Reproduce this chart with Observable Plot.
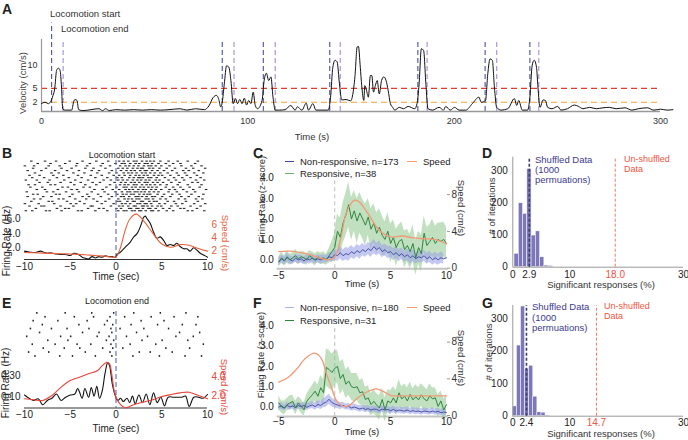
<!DOCTYPE html>
<html><head><meta charset="utf-8">
<script src="https://cdn.jsdelivr.net/npm/d3@7"></script>
<script src="https://cdn.jsdelivr.net/npm/@observablehq/plot@0.6"></script>
<style>
body{margin:0;background:#fff;}
#root{position:relative;width:688px;height:440px;overflow:hidden;font-family:"Liberation Sans",Arial,Helvetica,sans-serif;color:#222;}
.t{position:absolute;white-space:nowrap;line-height:1;}
.sw{position:absolute;height:0;}
</style></head><body><div id="root"></div><script>
// ---------------- DATA ----------------
// Panel A: velocity trace
const velTime = [0,1.7,3.4,4.5,5.6,6.4,7.3,8.2,9.0,9.7,10.3,11.4,14.6,15.7,16.3,17.2,18.0,20,27.9,29.6,31.1,32.8,36,40.3,44.6,48.9,53.2,57.5,61.8,67.2,70.4,74.7,79,81.1,83.3,84.8,85.8,86.9,87.6,88.6,89.7,90.8,91.8,92.9,94,95,96.1,97.2,98.3,99.4,100.4,101.5,102.6,103.6,104.7,106.9,107.9,109,110.1,111.2,112.2,113.3,115.5,118,120.8,122.9,124,126.2,128.3,129.4,131.5,133,139,140.1,141.2,142.3,143.3,144.4,145.5,147.6,149.8,151.9,153,153.6,154.5,155.2,156.2,156.7,157.5,158.4,159.4,160.1,160.9,161.8,162.7,163.7,164.8,165.9,167,168,169.1,170.2,171.2,173.4,175.5,177.7,180.9,182,183,184.1,185.2,186.3,187.3,189.5,192.7,194.8,195.9,198.1,200.2,202.4,205.6,208.8,212,213.1,215.2,216.3,217.4,218.5,219.5,220.6,222.7,226,229.2,230.3,231.3,233,235.6,236.7,237.8,238.8,239.9,240.6,241.6,243.1,244.2,245.3,247.4,250.2,251.7,254.9,258.2,260.3,262.4,265.7,268.9,272.1,275.3,278.5,282.8,286.1,289.3,293.6,296.8,300,303.2,306];
const velSpeed = [1.7,2.0,1.7,2.2,3.5,4.9,8.9,9.4,8.9,5.3,0.5,0.3,0.3,2.3,2.6,2.4,0.4,0.2,0.6,0.2,0.6,0.2,0.4,0.3,0.4,0.3,0.4,0.3,0.4,0.6,0.3,0.6,0.4,1.2,3.1,3.5,2.8,1.0,2.0,6.0,9.9,9.6,6.7,1.7,2.8,1.7,2.6,1.7,2.9,1.4,2.4,1.7,4.2,1.3,0.6,2.4,6.7,8.3,6.7,7.5,3.1,0.3,0.3,0.4,1.3,0.3,1.0,0.3,1.8,0.3,1.7,0.3,0.3,3.1,9.6,11.1,10.7,6.0,2.5,2.6,2.3,7.5,14.0,14.1,9.6,5.6,2.4,5.6,4.6,3.1,7.8,7.8,4.2,5.6,6.7,3.8,6.7,7.5,6.7,4.6,1.7,0.9,0.3,0.9,0.6,1.1,0.6,1.7,5.9,13.6,13.2,5.9,0.6,0.3,0.9,0.3,1.1,0.3,0.9,0.3,0.3,1.7,3.1,2.0,2.4,8.2,11.4,11.1,5.3,0.9,0.3,0.6,2.8,1.3,2.4,0.3,0.3,3.1,10.0,11.1,9.6,5.3,0.9,2.5,2.4,0.9,0.6,1.1,0.3,0.6,1.4,1.1,0.6,0.9,0.6,0.8,0.9,0.6,0.8,0.3,0.6,0.8,0.3,0.5,0.3,0.4];
const locoStart = [4.9, 87.6, 107.5, 139.7, 182.4, 215, 236.7];
const locoEnd = [10.5, 93.3, 113.3, 144.8, 186.9, 220.6, 241];
const speedThresholds = [2, 5];
const aXTicks = [0, 100, 200, 300];
const aYTicks = [2, 5, 10];

// Panel B: locomotion start, single cell (spike times per trial, s)
const rasterStart = [
 [-9.8,-9.1,-7.6,-7.2,-5.9,-4.1,-3.7,-2.2,-0.9,0.3,0.9,1.2,1.8,2.1,2.6,2.8,3.3,3.9,4.1,4.7,5.6,6.3,7.9,8.4,9.7],
 [-8.7,-6.4,-5.5,-5.1,-3.0,-1.8,-1.3,0.1,0.6,1.5,1.7,2.3,2.5,3.0,3.6,3.8,4.4,5.2,5.9,7.1,7.5,8.9],
 [-9.4,-8.1,-7.8,-6.0,-4.6,-2.7,-2.5,-0.5,0.4,0.8,1.4,2.0,2.2,2.9,3.1,3.5,4.0,4.6,5.0,6.1,6.8,8.2,9.3],
 [-9.9,-8.4,-6.7,-4.9,-4.3,-3.4,-1.5,-0.2,0.7,1.1,1.6,2.4,2.7,3.2,3.4,3.9,4.8,5.4,6.6,7.3,8.6,9.8],
 [-9.2,-7.3,-6.9,-5.3,-3.9,-2.0,-1.1,0.2,0.5,1.3,1.9,2.1,2.8,3.0,3.7,4.2,4.5,5.7,6.4,7.7,9.0],
 [-8.9,-8.2,-6.2,-5.7,-4.4,-3.2,-2.4,-0.7,0.3,1.0,1.4,1.8,2.3,2.6,3.3,3.6,4.1,4.9,5.5,6.9,7.6,8.8,9.5],
 [-9.6,-7.9,-7.0,-5.0,-3.6,-2.9,-1.6,-0.4,0.6,0.9,1.5,2.2,2.5,2.9,3.4,4.0,4.3,5.1,6.0,7.2,8.0,9.1],
 [-9.0,-8.5,-6.5,-6.1,-4.7,-3.1,-1.9,-0.8,0.2,0.8,1.2,1.7,2.0,2.6,3.1,3.5,3.8,4.6,5.3,6.2,7.0,8.3,9.6],
 [-9.7,-7.5,-6.8,-5.4,-4.0,-2.6,-1.2,0.0,0.7,1.3,1.6,2.1,2.4,2.8,3.2,3.7,4.2,4.7,5.8,6.7,7.8,8.7],
 [-8.6,-7.7,-6.3,-4.8,-4.2,-2.3,-1.4,-0.3,0.4,1.1,1.5,1.9,2.5,3.0,3.3,3.9,4.4,5.0,5.9,6.5,7.4,8.5,9.9],
 [-9.3,-8.0,-5.8,-5.2,-3.5,-2.8,-1.0,0.1,0.9,1.2,1.8,2.2,2.7,3.1,3.6,4.0,4.5,5.5,6.3,7.1,8.1,9.2],
 [-9.5,-8.8,-7.1,-6.6,-4.5,-3.3,-2.1,-0.6,0.5,1.0,1.4,2.0,2.3,2.9,3.4,3.8,4.3,4.9,5.6,6.8,7.9,9.4],
 [-8.3,-7.4,-6.0,-4.9,-3.8,-2.5,-1.7,-0.1,0.6,1.1,1.7,2.1,2.6,3.2,3.5,4.1,4.6,5.2,6.1,7.0,8.4,9.0],
 [-9.8,-8.6,-7.2,-5.6,-4.4,-3.0,-1.3,-0.5,0.3,0.8,1.3,1.9,2.4,2.8,3.3,3.7,4.4,4.8,5.8,6.6,7.5,8.8,9.7],
 [-9.1,-7.8,-6.4,-5.1,-3.7,-2.2,-0.9,0.2,0.7,1.5,2.0,2.5,2.7,3.0,3.6,3.9,4.5,5.4,6.4,7.3,8.2,9.3],
 [-9.4,-8.3,-6.8,-5.7,-4.1,-2.7,-1.5,-0.2,0.4,1.0,1.6,2.2,2.6,3.1,3.5,4.2,4.7,5.1,6.0,6.9,7.8,8.9],
 [-8.8,-7.0,-6.2,-4.6,-3.4,-2.0,-0.7,0.1,0.9,1.4,1.8,2.3,2.9,3.3,3.8,4.3,4.9,5.7,6.7,7.6,8.6,9.6],
 [-9.6,-8.1,-6.6,-5.3,-4.0,-2.6,-1.8,-0.4,0.6,1.2,1.7,2.1,2.7,3.2,3.4,4.0,4.6,5.3,6.2,7.4,8.0,9.1],
 [-9.0,-7.6,-5.9,-4.8,-3.3,-2.4,-1.1,0.3,0.8,1.3,1.9,2.4,2.8,3.0,3.7,4.1,4.8,5.6,6.5,7.7,8.5,9.8],
 [-9.9,-8.9,-7.3,-6.1,-4.3,-3.1,-1.6,-0.6,0.5,1.1,1.5,2.0,2.5,3.1,3.6,3.9,4.4,5.0,5.9,7.2,8.3,9.4],
 [-8.5,-7.1,-5.5,-4.2,-2.8,-1.4,0.0,0.7,1.0,1.6,2.2,2.6,3.2,3.5,4.0,4.7,5.5,6.3,7.1,8.7],
 [-9.2,-7.7,-6.5,-5.0,-3.6,-2.1,-0.8,0.4,0.9,1.4,2.0,2.3,2.9,3.4,3.8,4.2,4.9,5.8,6.8,7.9,9.0]
];
const bTime = [-10,-9.35,-8.8,-8.25,-7.9,-7.5,-7.2,-6.6,-6.1,-5.5,-5.0,-4.6,-4.1,-3.7,-3.35,-3.0,-2.6,-2.25,-1.9,-1.5,-1.16,-0.8,-0.44,-0.07,0.1,0.47,0.84,1.2,1.56,1.93,2.3,2.65,2.84,3.0,3.2,3.38,3.75,4.1,4.47,4.84,5.2,5.56,5.93,6.3,6.65,7.0,7.4,7.75,8.1,8.47,8.84,9.2,9.75,10];
const bRate = [1.48,1.33,1.29,1.48,1.33,1.19,1.24,1.1,1.0,1.0,0.86,1.19,1.0,0.62,0.48,0.38,0.71,0.52,0.71,0.62,0.81,0.71,0.71,0.62,1.0,1.33,1.81,2.29,2.76,3.48,3.95,4.9,5.62,6.24,6.43,6.1,5.38,4.19,3.3,3.5,3.0,2.29,2.43,2.29,2.6,2.14,1.81,1.81,1.48,1.95,1.62,1.19,0.81,0.62];
const bSpeedTime = [-10,-9,-8,-7,-6,-5,-4,-3,-2,-1,-0.5,0,0.5,1,1.5,2.2,3,4,5,6,7,8,9,10];
const bSpeed = [1.7,1.65,1.6,1.55,1.5,1.45,1.4,1.3,1.2,1.1,1.0,1.0,2.5,5.1,6.8,7.6,6.6,4.7,3.0,2.5,2.9,2.8,2.3,1.9];

// Panel E: locomotion end, single cell
const rasterEnd = [
 [-8.8,-6.1,-4.7,-2.2,-0.4,1.9,4.8,7.6,9.4],
 [-9.5,-7.3,-3.3,-0.6,2.6,3.8,6.2],
 [-7.9,-5.6,-3.9,-1.4,-0.3,0.8,5.5,8.1],
 [-9.1,-6.6,-4.2,-2.7,-0.5,1.6,4.4,9.6],
 [-7.4,-5.2,-1.0,-0.2,2.9,5.1,7.9],
 [-9.7,-6.0,-4.9,-2.0,-0.7,1.2,3.5,6.6,8.5],
 [-8.3,-3.6,-1.8,-0.4,2.3,7.0,9.2],
 [-9.3,-7.0,-5.3,-2.9,-0.5,0.5,3.1,5.8],
 [-8.0,-4.0,-1.2,-0.3,1.7,4.6,7.3,8.8],
 [-9.0,-6.3,-3.1,-0.9,2.8,5.3],
 [-7.7,-4.5,-2.4,-0.6,1.0,3.9,6.4,9.0],
 [-8.6,-5.5,-2.6,-0.2,2.0,4.9,7.7]
];
const eTime = [-10,-9.5,-9,-8.5,-8,-7.5,-7,-6.5,-6,-5.5,-5,-4.5,-4.2,-4,-3.7,-3.4,-3,-2.7,-2.4,-2.1,-1.8,-1.5,-1.2,-0.9,-0.7,-0.4,-0.1,0.2,0.5,0.8,1.2,1.5,1.8,2.1,2.5,2.9,3.3,3.7,4.1,4.5,4.9,5.3,5.7,6.3,6.7,7.2,7.6,8.0,8.5,9.0,9.5,10];
const eRate = [0.12,0.09,0.07,0.085,0.03,0.07,0.09,0.13,0.07,0.1,0.12,0.13,0.18,0.15,0.09,0.18,0.1,0.19,0.11,0.2,0.09,0.16,0.32,0.42,0.39,0.22,0.12,0.07,0.09,0.06,0.09,0.05,0.11,0.04,0.12,0.05,0.13,0.03,0.14,0.05,0.1,0.02,0.1,0.1,0.1,0.1,0.11,0.015,0.1,0.1,0.09,0.125];
const eSpeedTime = [-10,-9,-8,-7,-6,-5,-4,-3,-2,-1.5,-1,-0.7,-0.5,-0.2,0,0.5,1,1.5,2,3,4,5,6,7,8,9,10];
const eSpeed = [1.63,1.52,1.45,1.99,2.9,3.62,3.98,4.35,4.71,5.25,5.6,5.43,4.53,2.53,1.81,1.01,0.65,0.8,1.01,1.27,1.52,1.88,2.1,2.28,2.35,1.99,1.63];

// Panels C and F: population averages
const popTime = [-5,-4.75,-4.5,-4.25,-4,-3.75,-3.5,-3.25,-3,-2.75,-2.5,-2.25,-2,-1.75,-1.5,-1.25,-1,-0.75,-0.5,-0.25,0,0.25,0.5,0.75,1,1.25,1.5,1.75,2,2.25,2.5,2.75,3,3.25,3.5,3.75,4,4.25,4.5,4.75,5,5.25,5.5,5.75,6,6.25,6.5,6.75,7,7.25,7.5,7.75,8,8.25,8.5,8.75,9,9.25,9.5,9.75,10];
const cRespMean = [-0.1,0.1,-0.05,0.15,0.0,0.1,0.2,0.05,0.15,0.1, 0.0,0.2,0.1,0.0,0.15,0.05,0.1,0.0,0.2,0.4, 0.6,1.4,1.1,1.8,2.2,2.7,2.0,2.4,1.9,2.3, 2.0,1.7,2.1,1.5,1.8,1.3,1.6,1.2,1.0,1.4, 0.8,1.1,0.6,0.9,1.0,0.5,0.7,0.4,0.8,0.1, 0.6,0.3,1.3,0.7,0.9,1.1,0.8,1.0,0.9,1.0, 0.8];
const cRespSem = [0.25,0.28,0.25,0.3,0.27,0.25,0.3,0.28,0.25,0.3, 0.27,0.25,0.28,0.3,0.25,0.28,0.3,0.27,0.35,0.5, 0.7,0.85,0.95,1.0,1.05,1.1,1.05,1.0,1.1,1.0, 0.95,1.05,0.9,1.0,0.95,1.0,0.9,0.95,0.85,0.9, 0.95,0.85,0.9,0.8,0.85,0.9,0.8,0.85,0.9,0.85, 0.8,0.9,0.85,0.9,0.8,0.9,0.85,0.8,0.9,0.85, 0.8];
const cNonMean = [-0.1,0.05,-0.05,0.1,0.0,-0.05,0.08,0.0,0.05,-0.05, 0.05,0.0,0.08,-0.02,0.05,0.0,0.05,0.02,0.15,0.1, 0.25,0.2,0.35,0.2,0.3,0.25,0.4,0.3,0.45,0.35, 0.5,0.4,0.55,0.45,0.65,0.5,0.6,0.4,0.5,0.35, 0.4,0.25,0.35,0.2,0.3,0.15,0.25,0.1,0.2,0.05, 0.15,0.1,0.2,0.05,0.15,0.0,0.1,0.0,0.1,0.05, 0.1];
const cNonSem = [0.2,0.18,0.2,0.22,0.2,0.18,0.2,0.22,0.2,0.18, 0.2,0.22,0.2,0.18,0.2,0.22,0.2,0.18,0.2,0.22, 0.25, 0.28,0.3,0.28,0.3,0.32,0.3,0.28,0.3,0.32, 0.3,0.28,0.3,0.32,0.35,0.3,0.32,0.3,0.28,0.3, 0.28,0.3,0.28,0.3,0.28,0.26,0.28,0.3,0.28,0.26, 0.28,0.26,0.28,0.26,0.28,0.26,0.28,0.26,0.28,0.26];
const cSpeedTime = [-5,-4,-3,-2,-1,-0.5,0,0.5,1,1.5,1.8,2.2,3,4,5,6,7,8,9,10];
const cSpeed = [1.8,1.85,1.7,1.4,1.0,0.9,1.2,3.0,5.9,7.1,7.4,7.2,5.9,4.1,3.4,3.5,3.3,3.2,3.1,2.65];

const fRespMean = [0.2,0.0,-0.05,0.12,0.2,0.28,-0.05,0.2,0.05,-0.14, 0.28,0.45,0.6,0.78,0.53,0.95,0.7,1.95,1.85,1.7, 1.9,2.0,1.4,1.6,1.12,1.28,1.0,0.95,1.0,0.7, 0.75,0.37,0.45,0.12,0.28,0.1,-0.05,0.37,-0.14,0.3, 0.2,0.45,0.2,0.7,0.4,0.53,0.3,0.62,0.35,0.5, 0.35,0.6,0.4,0.3,0.55,0.4,0.45,0.03,0.3,-0.14, 0.12];
const fRespSem = [0.35,0.3,0.35,0.3,0.35,0.3,0.35,0.3,0.35,0.3, 0.35,0.4,0.45,0.5,0.55,0.6,0.65,0.9,0.95,0.9, 0.85,0.8,0.8,0.75,0.7,0.7,0.65,0.7,0.65,0.6, 0.65,0.6,0.6,0.55,0.6,0.55,0.6,0.55,0.6,0.55, 0.6,0.55,0.6,0.65,0.6,0.6,0.65,0.6,0.55,0.6, 0.6,0.55,0.6,0.55,0.6,0.55,0.5,0.55,0.5,0.55, 0.5];
const fNonMean = [0.0,0.05,-0.05,0.08,0.0,0.05,-0.03,0.07,0.02,0.08, -0.02,0.05,0.1,0.02,0.12,0.08,0.18,0.25,0.38,0.22, 0.15,0.1,0.05,0.08,0.0,0.03,-0.05,0.0,-0.05,-0.1, -0.05,-0.12,-0.08,-0.15,-0.1,-0.12,-0.18,-0.1,-0.15,-0.12, -0.18,-0.12,-0.2,-0.15,-0.18,-0.2,-0.15,-0.22,-0.18,-0.22, -0.2,-0.25,-0.2,-0.22,-0.25,-0.2,-0.25,-0.22,-0.28,-0.25, -0.27];
const fNonSem = [0.15,0.17,0.15,0.16,0.15,0.17,0.15,0.16,0.15,0.17, 0.15,0.16,0.17,0.18,0.18,0.2,0.22,0.25,0.25,0.22, 0.2,0.18,0.17,0.16,0.15,0.16,0.15,0.16,0.15,0.16, 0.15,0.16,0.15,0.16,0.15,0.16,0.15,0.16,0.15,0.16, 0.15,0.16,0.15,0.16,0.15,0.16,0.15,0.16,0.15,0.16, 0.15,0.16,0.15,0.16,0.15,0.16,0.15,0.16,0.15,0.16, 0.15];
const fSpeedTime = [-5,-4.14,-3.25,-2.66,-1.78,-1.18,-0.74,-0.3,0.15,0.59,1.04,1.48,2.07,2.96,3.7,4.29,5.03,5.6,6.8,8.28,10];
const fSpeed = [3.64,4.18,5.28,6.19,6.8,6.19,4.55,3.09,1.64,1.09,0.98,1.27,1.93,2.62,2.91,2.66,2.18,2.14,2.14,2.14,2.14];
const popTimeTicks = [-5, 0, 5, 10];
const zTicks = [0, 1, 2, 3, 4];
const popSpeedTicks = [0, 4, 8];

// Panels D and G: shuffled histograms
const dBinLo = [0.3,1.05,1.8,2.55,3.3,4.05,4.8,5.55,6.3];
const dBinHi = [1.05,1.8,2.55,3.3,4.05,4.8,5.55,6.3,7.05];
const dCounts = [42,200,167,307,99,112,31,5,4];
const dShuffledMean = 2.9, dObserved = 18.0;
const gBinLo = [0,0.72,1.44,2.16,2.88,3.6,4.32,5.04,5.76];
const gBinHi = [0.72,1.44,2.16,2.88,3.6,4.32,5.04,5.76,6.48];
const gCounts = [30,217,337,146,155,60,12,11,2];
const gShuffledMean = 2.4, gObserved = 14.7;
const histYTicks = [0, 100, 200, 300];

// ---------------- DRAWING ----------------
const root = document.getElementById("root");
const FONT = '"Liberation Sans", Arial, Helvetica, sans-serif';
const baseStyle = {background: "transparent", overflow: "visible", fontFamily: FONT, fontSize: "9px", color: "#222"};
function P(opts, left, top) {
  const svg = Plot.plot({...opts, style: baseStyle});
  svg.style.position = "absolute"; svg.style.left = left + "px"; svg.style.top = top + "px";
  svg.style.maxWidth = "none"; svg.style.overflow = "visible"; svg.style.background = "transparent";
  root.appendChild(svg);
  return svg;
}
function T(s, x, y, o = {}) {
  const d = document.createElement("div");
  d.className = "t"; d.textContent = s;
  d.style.left = x + "px"; d.style.top = y + "px";
  d.style.fontSize = (o.size || 9) + "px";
  if (o.bold) d.style.fontWeight = "bold";
  if (o.color) d.style.color = o.color;
  const ax = o.align === "left" ? "0" : o.align === "right" ? "-100%" : "-50%";
  d.style.transform = `translate(${ax},-50%)` + (o.rot ? ` rotate(${o.rot}deg)` : "");
  root.appendChild(d);
}
function SW(x, y, w, color) {
  const d = document.createElement("div");
  d.className = "sw"; d.style.left = x + "px"; d.style.top = y + "px"; d.style.width = w + "px";
  d.style.borderTop = `1.5px solid ${color}`;
  root.appendChild(d);
}
const zip = (xs, ys) => xs.map((x, i) => ({x, y: ys[i]}));
const band = (xs, m, s) => xs.map((x, i) => ({x, m: m[i], lo: m[i] - s[i], hi: m[i] + s[i]}));
const spikes = rows => rows.flatMap((r, i) => r.map(t => ({t, row: i})));

const START_C = "#4b4fa6", END_C = "#b39ddb", LOCO_C = "#6d72c3";
const SPEED_C = "#e8603a", POP_SPEED_C = "#f29a76";
const GREEN = "#2e8540", GREEN_BAND = "#8cc68c", BLUE = "#3d46a3", BLUE_BAND = "#9ea3e6";
const HIST = "#7b77b8", RED = "#f0553f", DARKP = "#3c3a8f";

// ---- Panel A ----
const vel = zip(velTime, velSpeed);
P({width: 688, height: 145, marginLeft: 41, marginRight: 28, marginTop: 39, marginBottom: 34,
  x: {domain: [0, 300], axis: null}, y: {domain: [0, 15.6], axis: null},
  marks: [
    Plot.ruleY([speedThresholds[1]], {x1: 0, x2: 300, stroke: "#e03c2e", strokeWidth: 1.1, strokeDasharray: "6,4"}),
    Plot.ruleY([speedThresholds[0]], {x1: 0, x2: 300, stroke: "#f2a33a", strokeWidth: 1.1, strokeDasharray: "6,4"}),
    Plot.ruleX(locoStart.slice(0, 1), {y1: 0, y2: 19.2, stroke: START_C, strokeWidth: 1.1, strokeDasharray: "5,3"}),
    Plot.ruleX(locoStart.slice(1), {y1: 0, y2: 15.6, stroke: START_C, strokeWidth: 1.1, strokeDasharray: "5,3"}),
    Plot.ruleX(locoEnd, {y1: 0, y2: 15.6, stroke: END_C, strokeWidth: 1.3, strokeDasharray: "5,3"}),
    Plot.ruleY([0], {x1: 0, x2: 300, stroke: "#999", strokeWidth: 1.5}),
    Plot.ruleX([0], {y1: 0, y2: 15.6, stroke: "#999", strokeWidth: 1.2}),
    Plot.line(vel, {x: "x", y: "y", stroke: "#111", strokeWidth: 1, curve: "monotone-x"}),
    Plot.axisX({ticks: aXTicks, tickSize: 0, tickPadding: 6, label: null, color: "#333"}),
    Plot.axisY({ticks: aYTicks, tickSize: 0, tickPadding: 4, label: null, color: "#333"})
  ]}, 0, 0);
T("A", 2, 9, {bold: true, size: 14, align: "left"});
T("Locomotion start", 50, 14, {align: "left", size: 9.5, color: "#333"});
T("Locomotion end", 61, 29, {align: "left", size: 9.5, color: "#333"});
T("Velocity (cm/s)", 23, 83, {rot: -90, size: 9.5, color: "#444"});
T("Time (s)", 312, 137, {size: 9.5, color: "#333"});

// ---- single-cell panels B and E ----
function cellPanel(cfg) {
  P({width: 230, height: cfg.rH, marginLeft: 24, marginRight: 23, marginTop: cfg.rMT, marginBottom: 2,
    x: {domain: [-10, 10], axis: null}, y: {domain: [0, cfg.raster.length], axis: null},
    marks: [
      Plot.rect(spikes(cfg.raster), {x1: d => d.t - cfg.tickHalf, x2: d => d.t + cfg.tickHalf, y1: d => d.row + 0.3, y2: d => d.row + 0.75, fill: "#222"}),
      Plot.ruleX([0], {stroke: LOCO_C, strokeWidth: 1.2, strokeDasharray: "5,3"})
    ]}, 0, cfg.rTop);
  const common = {width: 230, height: cfg.h, marginLeft: 24, marginRight: 23, marginTop: cfg.mt, marginBottom: cfg.mb,
    x: {domain: [-10, 10], axis: null}};
  P({...common, y: {domain: cfg.rateDomain, axis: null},
    marks: [
      Plot.ruleX([0], {stroke: LOCO_C, strokeWidth: 1.2, strokeDasharray: "5,3"}),
      Plot.ruleY([cfg.rateDomain[0]], {x1: -10, x2: 10, stroke: "#333", strokeWidth: 1}),
      Plot.line(zip(cfg.rt, cfg.rate), {x: "x", y: "y", stroke: "#111", strokeWidth: 1.1, curve: "catmull-rom"}),
      Plot.axisX({ticks: [-10, -5, 0, 5, 10], tickSize: 0, tickPadding: 3, label: null, color: "#222", fontSize: 10}),
      Plot.axisY({ticks: cfg.rateTicks, tickSize: 0, tickPadding: 4, label: null, color: "#222", fontSize: 10})
    ]}, 0, cfg.top);
  P({...common, y: {domain: cfg.speedDomain, axis: null},
    marks: [
      Plot.line(zip(cfg.st, cfg.speed), {x: "x", y: "y", stroke: cfg.speedColor, strokeWidth: 1.1, curve: "catmull-rom"}),
      Plot.axisY({anchor: "right", ticks: cfg.speedTicks, tickSize: 0, tickPadding: 4, label: null, color: cfg.speedColor, fontSize: 10})
    ]}, 0, cfg.top);
}
cellPanel({raster: rasterStart, rTop: 158, rH: 56, rMT: 2, top: 200, h: 90, mt: 13, mb: 31, tickHalf: 0.14,
  rateDomain: [0.3, 6.8], rateTicks: [2, 4, 6], speedDomain: [0.615, 7.69], speedTicks: [2, 4, 6],
  rt: bTime, rate: bRate, st: bSpeedTime, speed: bSpeed, speedColor: SPEED_C});
T("B", 2, 153, {bold: true, size: 14, align: "left"});
T("Locomotion start", 122, 155, {size: 9});
T("Firing Rate (Hz)", 7, 241, {rot: -90, size: 10});
T("Speed (cm/s)", 225, 243, {rot: 90, size: 9.5, color: SPEED_C});
T("Time (sec)", 116, 277, {size: 10});

cellPanel({raster: rasterEnd, rTop: 308, rH: 52, rMT: 3, top: 350, h: 80, mt: 8, mb: 22.5, tickHalf: 0.08,
  rateDomain: [0, 0.458], rateTicks: [0.1, 0.3], speedDomain: [0.63, 6.02], speedTicks: [2, 4],
  rt: eTime, rate: eRate, st: eSpeedTime, speed: eSpeed, speedColor: "#e8453a"});
T("E", 2, 303, {bold: true, size: 14, align: "left"});
T("Locomotion end", 117, 301, {size: 9});
T("Firing Rate (Hz)", 6, 383, {rot: -90, size: 10});
T("Speed (cm/s)", 224, 387, {rot: 90, size: 9.5, color: "#e8453a"});
T("Time (sec)", 116, 429, {size: 10});

// ---- population panels C and F ----
function popPanel(cfg) {
  const common = {width: 230, height: 150, marginLeft: 48.3, marginRight: 14, marginTop: cfg.mt, marginBottom: cfg.mb,
    x: {domain: [-5, 10], axis: null}};
  const resp = band(popTime, cfg.rm, cfg.rs), non = band(popTime, cfg.nm, cfg.ns);
  P({...common, y: {domain: cfg.zDomain, axis: null},
    marks: [
      Plot.ruleY([cfg.zDomain[0]], {x1: -5.15, x2: 10.15, stroke: "#c4c4c4", strokeWidth: 2}),
      Plot.ruleX([0], {y1: cfg.zDomain[0], y2: 3.9, stroke: "#c8c8c8", strokeWidth: 1.2, strokeDasharray: "4,3"}),
      Plot.areaY(resp, {x: "x", y1: "lo", y2: "hi", fill: GREEN_BAND, fillOpacity: 0.55}),
      Plot.areaY(non, {x: "x", y1: "lo", y2: "hi", fill: BLUE_BAND, fillOpacity: 0.6}),
      Plot.line(non, {x: "x", y: "m", stroke: BLUE, strokeWidth: 0.9}),
      Plot.line(resp, {x: "x", y: "m", stroke: GREEN, strokeWidth: 1}),
      Plot.axisX({ticks: popTimeTicks, tickSize: 0, tickPadding: cfg.xPad, label: null, color: "#222", fontSize: 10}),
      Plot.axisY({ticks: zTicks, tickSize: 0, tickPadding: 5, label: null, color: "#222", fontSize: 10})
    ]}, 230, cfg.top);
  P({...common, y: {domain: cfg.sDomain, axis: null},
    marks: [
      Plot.line(zip(cfg.st, cfg.speed), {x: "x", y: "y", stroke: POP_SPEED_C, strokeWidth: 1.3, curve: "catmull-rom"}),
      Plot.axisY({anchor: "right", ticks: popSpeedTicks, tickSize: 3, tickPadding: 2, label: null, color: "#333", stroke: "#999", fontSize: 10})
    ]}, 230, cfg.top);
}
popPanel({top: 140, mt: 25, mb: 21.7, zDomain: [-0.44, 4.62], sDomain: [-0.065, 11.16], xPad: 3,
  rm: cRespMean, rs: cRespSem, nm: cNonMean, ns: cNonSem, st: cSpeedTime, speed: cSpeed});
T("C", 253, 153, {bold: true, size: 14, align: "left"});
SW(285, 161, 9, BLUE); T("Non-responsive, n=173", 300, 161.5, {align: "left", size: 9.5});
SW(285, 173, 9, "#6db36d"); T("Responsive, n=38", 300, 173.5, {align: "left", size: 9.5});
SW(407, 161, 10, POP_SPEED_C); T("Speed", 423, 161.5, {align: "left", size: 9.5});
T("Firing Rate (z-score)", 262, 199, {rot: -90, size: 9.5, color: "#333"});
T("Speed (cm/s)", 461, 208, {rot: 90, size: 9.5, color: "#333"});
T("Time (s)", 362, 284, {size: 9.5});

popPanel({top: 290, mt: 22, mb: 24, zDomain: [-0.468, 4.655], sDomain: [-0.11, 11.24], xPad: 1,
  rm: fRespMean, rs: fRespSem, nm: fNonMean, ns: fNonSem, st: fSpeedTime, speed: fSpeed});
T("F", 253, 303, {bold: true, size: 14, align: "left"});
SW(285, 307, 9, "#aeb0e6"); T("Non-responsive, n=180", 300, 307.5, {align: "left", size: 9.5});
SW(285, 320, 9, GREEN); T("Responsive, n=31", 300, 320.5, {align: "left", size: 9.5});
SW(407, 307, 10, POP_SPEED_C); T("Speed", 423, 307.5, {align: "left", size: 9.5});
T("Firing Rate (z-score)", 261, 355, {rot: -90, size: 9.5, color: "#333"});
T("Speed (cm/s)", 461, 358, {rot: 90, size: 9.5, color: "#333"});
T("Time (s)", 362, 432, {size: 9.5});

// ---- histogram panels D and G ----
function histPanel(cfg) {
  const bins = cfg.lo.map((l, i) => ({x1: l, x2: cfg.hi[i], y: cfg.counts[i]}));
  P({width: 228, height: 150, marginLeft: 52.3, marginRight: 5, marginTop: cfg.mt, marginBottom: cfg.mb,
    x: {domain: [0, 30], axis: null}, y: {domain: [0, cfg.yMax], axis: null},
    marks: [
      Plot.rectY(bins, {x1: "x1", x2: "x2", y: "y", fill: HIST, stroke: "white", strokeWidth: 0.5}),
      Plot.ruleY([0], {x1: 0, x2: 30, stroke: "#999", strokeWidth: 1}),
      Plot.ruleX([0], {y1: 0, y2: cfg.yMax, stroke: "#999", strokeWidth: 1}),
      Plot.ruleX([cfg.mean], {y1: 0, y2: cfg.yMax, stroke: "#3d3d66", strokeWidth: 1.6, strokeDasharray: "3,2"}),
      Plot.ruleX([cfg.obs], {y1: 0, y2: cfg.yMax, stroke: "#f27a5e", strokeWidth: 1, strokeDasharray: "3,2"}),
      Plot.axisX({ticks: [0, cfg.mean, 10, 30], tickFormat: d => (d === cfg.mean ? d.toFixed(1) : String(d)), tickSize: 0, tickPadding: cfg.xPad, label: null, color: "#222", fontSize: 10}),
      Plot.axisX({ticks: [cfg.obs], tickFormat: d => d.toFixed(1), tickSize: 0, tickPadding: cfg.xPad, label: null, color: RED, fontSize: 10}),
      Plot.axisY({ticks: histYTicks, tickSize: 0, tickPadding: 5, label: null, color: "#222", fontSize: 10})
    ]}, 460, cfg.top);
}
histPanel({top: 140, mt: 16.7, mb: 23.3, yMax: 344, lo: dBinLo, hi: dBinHi, counts: dCounts, mean: dShuffledMean, obs: dObserved, xPad: 4});
T("D", 482, 153, {bold: true, size: 14, align: "left"});
T("Shuffled Data", 535, 159.5, {align: "left", size: 9.5, color: DARKP});
T("(1000", 535, 170, {align: "left", size: 9.5, color: DARKP});
T("permuations)", 535, 180, {align: "left", size: 9.5, color: DARKP});
T("Un-shuffled", 624, 159, {align: "left", size: 9, color: RED});
T("Data", 624, 169, {align: "left", size: 9, color: RED});
T("# of iterations", 492, 206, {rot: -90, size: 9.5, color: "#333"});
T("Significant responses (%)", 601, 285, {size: 9.5, color: "#333"});

histPanel({top: 290, mt: 15, mb: 24.3, yMax: 340, lo: gBinLo, hi: gBinHi, counts: gCounts, mean: gShuffledMean, obs: gObserved, xPad: 2.5});
T("G", 482, 303, {bold: true, size: 14, align: "left"});
T("Shuffled Data", 532, 306.5, {align: "left", size: 9.5, color: DARKP});
T("(1000", 532, 317.5, {align: "left", size: 9.5, color: DARKP});
T("permuations)", 532, 327.5, {align: "left", size: 9.5, color: DARKP});
T("Un-shuffled", 604, 306, {align: "left", size: 9, color: RED});
T("Data", 604, 316, {align: "left", size: 9, color: RED});
T("# of iterations", 489, 352, {rot: -90, size: 9.5, color: "#333"});
T("Significant responses (%)", 601, 434, {size: 9.5, color: "#333"});
</script></body></html>
